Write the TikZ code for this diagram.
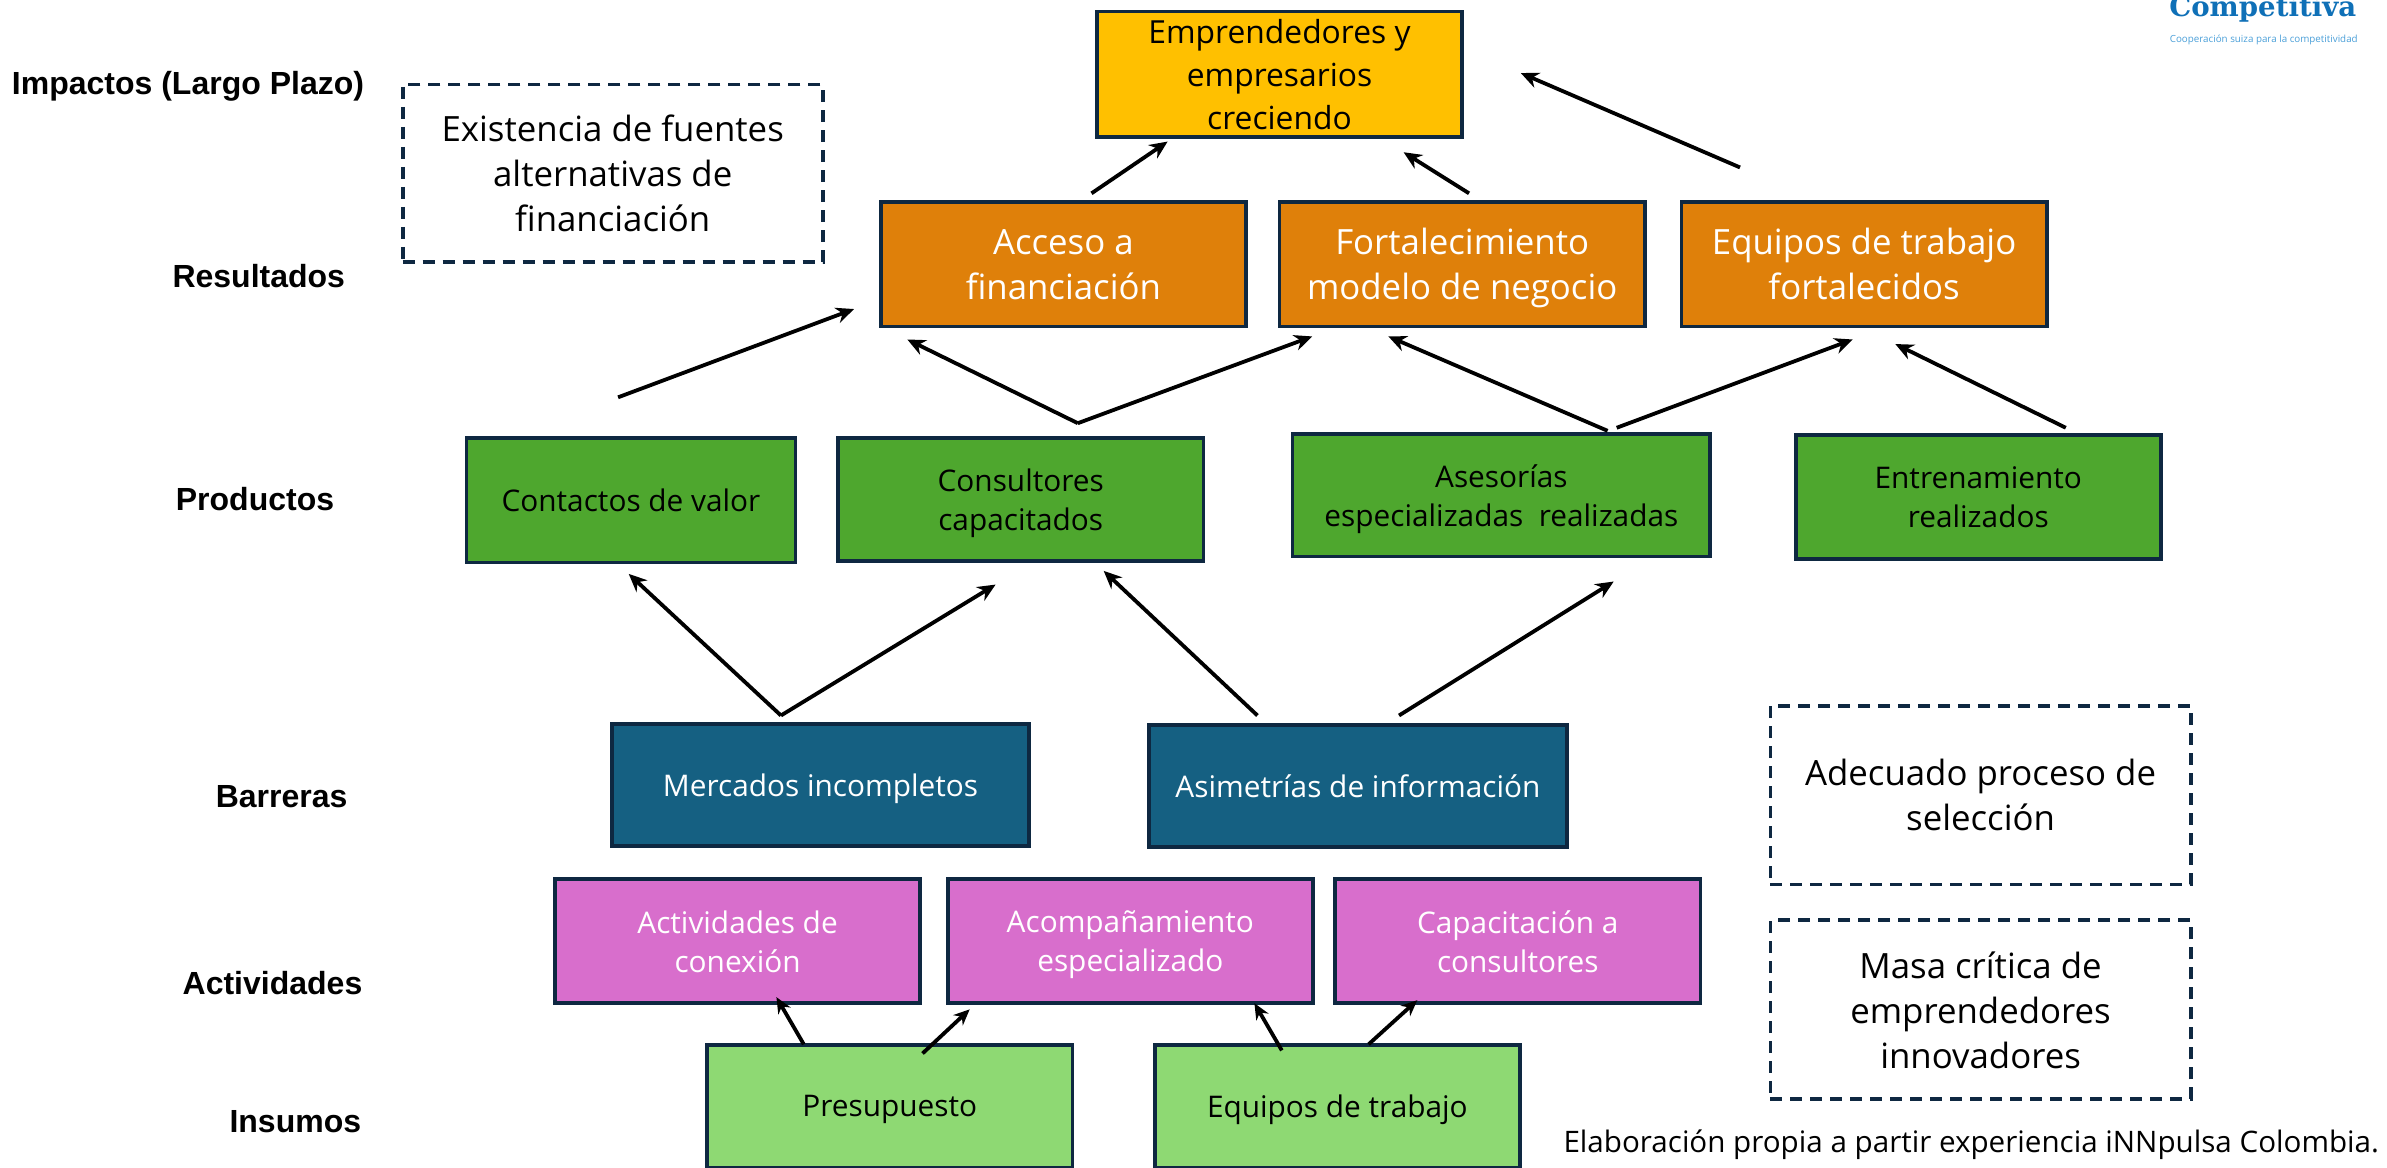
\documentclass[tikz,border=0pt]{standalone}
\usepackage{fontspec}
\setmainfont{Open Sans}
\newfontfamily\labelfont{Liberation Sans}
\newfontfamily\logofont{DejaVu Serif}
\definecolor{edgeblue}{HTML}{0E2841}
\definecolor{yel}{HTML}{FFC000}
\definecolor{ora}{HTML}{DF800A}
\definecolor{grn}{HTML}{4EA72E}
\definecolor{teal}{HTML}{156082}
\definecolor{pnk}{HTML}{D86ECC}
\definecolor{lgrn}{HTML}{8ED973}
\definecolor{logoblue}{HTML}{0F70B7}
\definecolor{logolight}{HTML}{4A9FD8}
\usetikzlibrary{arrows.meta}
\tikzset{
  x=0.76115pt,y=-0.76115pt,
  bx/.style={draw=edgeblue,line width=1.9pt,rectangle,align=center,inner sep=0pt,text depth=0pt},
  big/.style={font=\fontsize{17.4}{22.5}\selectfont},
  top/.style={font=\fontsize{15.9}{21.6}\selectfont},
  mid/.style={font=\fontsize{14.9}{19.5}\selectfont},
  dashbox/.style={bx,dashed,dash pattern=on 6pt off 4pt,fill=white,text=black},
  lab/.style={font=\labelfont\bfseries\fontsize{16}{18}\selectfont,anchor=center},
  arr/.style={-{Stealth[length=9pt,width=8pt]},line width=1.9pt,black},
  arrs/.style={-{Stealth[length=8pt,width=7pt]},line width=1.9pt,black},
}
\newcommand{\bxn}[7]{\node[bx,#6,minimum width={(#4-#2)*0.76115pt},minimum height={(#5-#3)*0.76115pt}] (#1) at ({(#2+#4)/2},{(#3+#5)/2}) {#7};}
\begin{document}
\begin{tikzpicture}
\useasboundingbox (0,0) rectangle (1568,766.6);
\clip (0,0) rectangle (1568,766.6);
% logo
\node[anchor=base east,inner sep=0pt,text=logoblue,font=\logofont\bfseries\fontsize{13.8}{16}\selectfont] (logoa) at (1548,11) {Competitiva};
\node[anchor=base east,inner sep=0pt,text=logolight,font=\fontsize{4.9}{5}\selectfont] (logob) at (1549,28) {Cooperación suiza para la competitividad};
% row labels
\node[lab] (l1) at (123.5,56.5) {Impactos (Largo Plazo)};
\node[lab] (l2) at (170,181.5) {Resultados};
\node[lab] (l3) at (167.5,327.5) {Productos};
\node[lab] (l4) at (185,523.5) {Barreras};
\node[lab] (l5) at (179,645.5) {Actividades};
\node[lab] (l6) at (194,736.5) {Insumos};
% boxes
\bxn{imp}{720.5}{7.5}{960.5}{90}{fill=yel,top,text=black}{Emprendedores y\\empresarios\\creciendo}
\bxn{fuentes}{264.5}{55.5}{540.5}{172}{dashbox,big}{Existencia de fuentes\\alternativas de\\financiación}
\bxn{r1}{578.5}{132.5}{818.5}{214.5}{fill=ora,big,text=white}{Acceso a\\financiación}
\bxn{r2}{840.5}{132.5}{1080.5}{214.5}{fill=ora,big,text=white}{Fortalecimiento\\modelo de negocio}
\bxn{r3}{1104.5}{132.5}{1344.5}{214.5}{fill=ora,big,text=white}{Equipos de trabajo\\fortalecidos}
\bxn{p1}{306.5}{287.5}{522.5}{369.5}{fill=grn,mid,text=black}{Contactos de valor}
\bxn{p2}{550.5}{287.5}{790.5}{368.5}{fill=grn,mid,text=black}{Consultores\\capacitados}
\bxn{p3}{849}{285}{1123.5}{365.5}{fill=grn,mid,text=black}{Asesorías\\especializadas\ \ realizadas}
\bxn{p4}{1179.5}{285.5}{1419.5}{367}{fill=grn,mid,text=black}{Entrenamiento\\realizados}
\bxn{b1}{402}{475.5}{676}{555.5}{fill=teal,mid,text=white}{Mercados incompletos}
\bxn{b2}{754.5}{476.5}{1029.5}{556.5}{fill=teal,mid,text=white}{Asimetrías de información}
\bxn{a1}{364.5}{577.5}{604.5}{659}{fill=pnk,mid,text=white}{Actividades de\\conexión}
\bxn{a2}{622.5}{577.5}{862.5}{659}{fill=pnk,mid,text=white}{Acompañamiento\\especializado}
\bxn{a3}{877}{577.5}{1117}{659}{fill=pnk,mid,text=white}{Capacitación a\\consultores}
\bxn{i1}{464.5}{686.5}{704.5}{767}{fill=lgrn,mid,text=black}{Presupuesto}
\bxn{i2}{758.5}{686.5}{998.5}{767}{fill=lgrn,mid,text=black}{Equipos de trabajo}
\bxn{s1}{1163}{463.5}{1439}{581}{dashbox,big}{Adecuado proceso de\\selección}
\bxn{s2}{1163}{604.5}{1439}{722}{dashbox,big}{Masa crítica de\\emprendedores\\innovadores}
\node[anchor=base east,inner sep=0pt,font=\fontsize{14.8}{18}\selectfont,text=black] (src) at (1563,757) {Elaboración propia a partir experiencia iNNpulsa Colombia.};
% free arrow ends
\foreach \n/\x/\y in {a/717/127,b/767/93,c/965/127,d/922/100,e/1143/110,f/999/48,g/406/261,h/561/203,
  j/708/278,k/596/223,l/862/221,m/1056/283,n/912/221,o/1062/281,q/1217/223,r/1357/281,s/1245/226,
  t/513/470,u/413/377,v/654/384,w/826/470,z/725/375,aa/919/470,ab/1060/382,
  ac/528/686,ad/510/655,ae/606/692,af/637/663,ag/842/690,ah/824/659,ai/899/686,aj/931/657}
  {\coordinate (c\n) at (\x,\y);}
\draw[arr] (ca) -- (cb);
\draw[arr] (cc) -- (cd);
\draw[arr] (ce) -- (cf);
\draw[arr] (cg) -- (ch);
\draw[arr] (cj) -- (ck);
\draw[arr] (cj) -- (cl);
\draw[arr] (cm) -- (cn);
\draw[arr] (co) -- (cq);
\draw[arr] (cr) -- (cs);
\draw[arr] (ct) -- (cu);
\draw[arr] (ct) -- (cv);
\draw[arr] (cw) -- (cz);
\draw[arr] (caa) -- (cab);
\draw[arrs] (cac) -- (cad);
\draw[arrs] (cae) -- (caf);
\draw[arrs] (cag) -- (cah);
\draw[arrs] (cai) -- (caj);
\end{tikzpicture}
\end{document}
